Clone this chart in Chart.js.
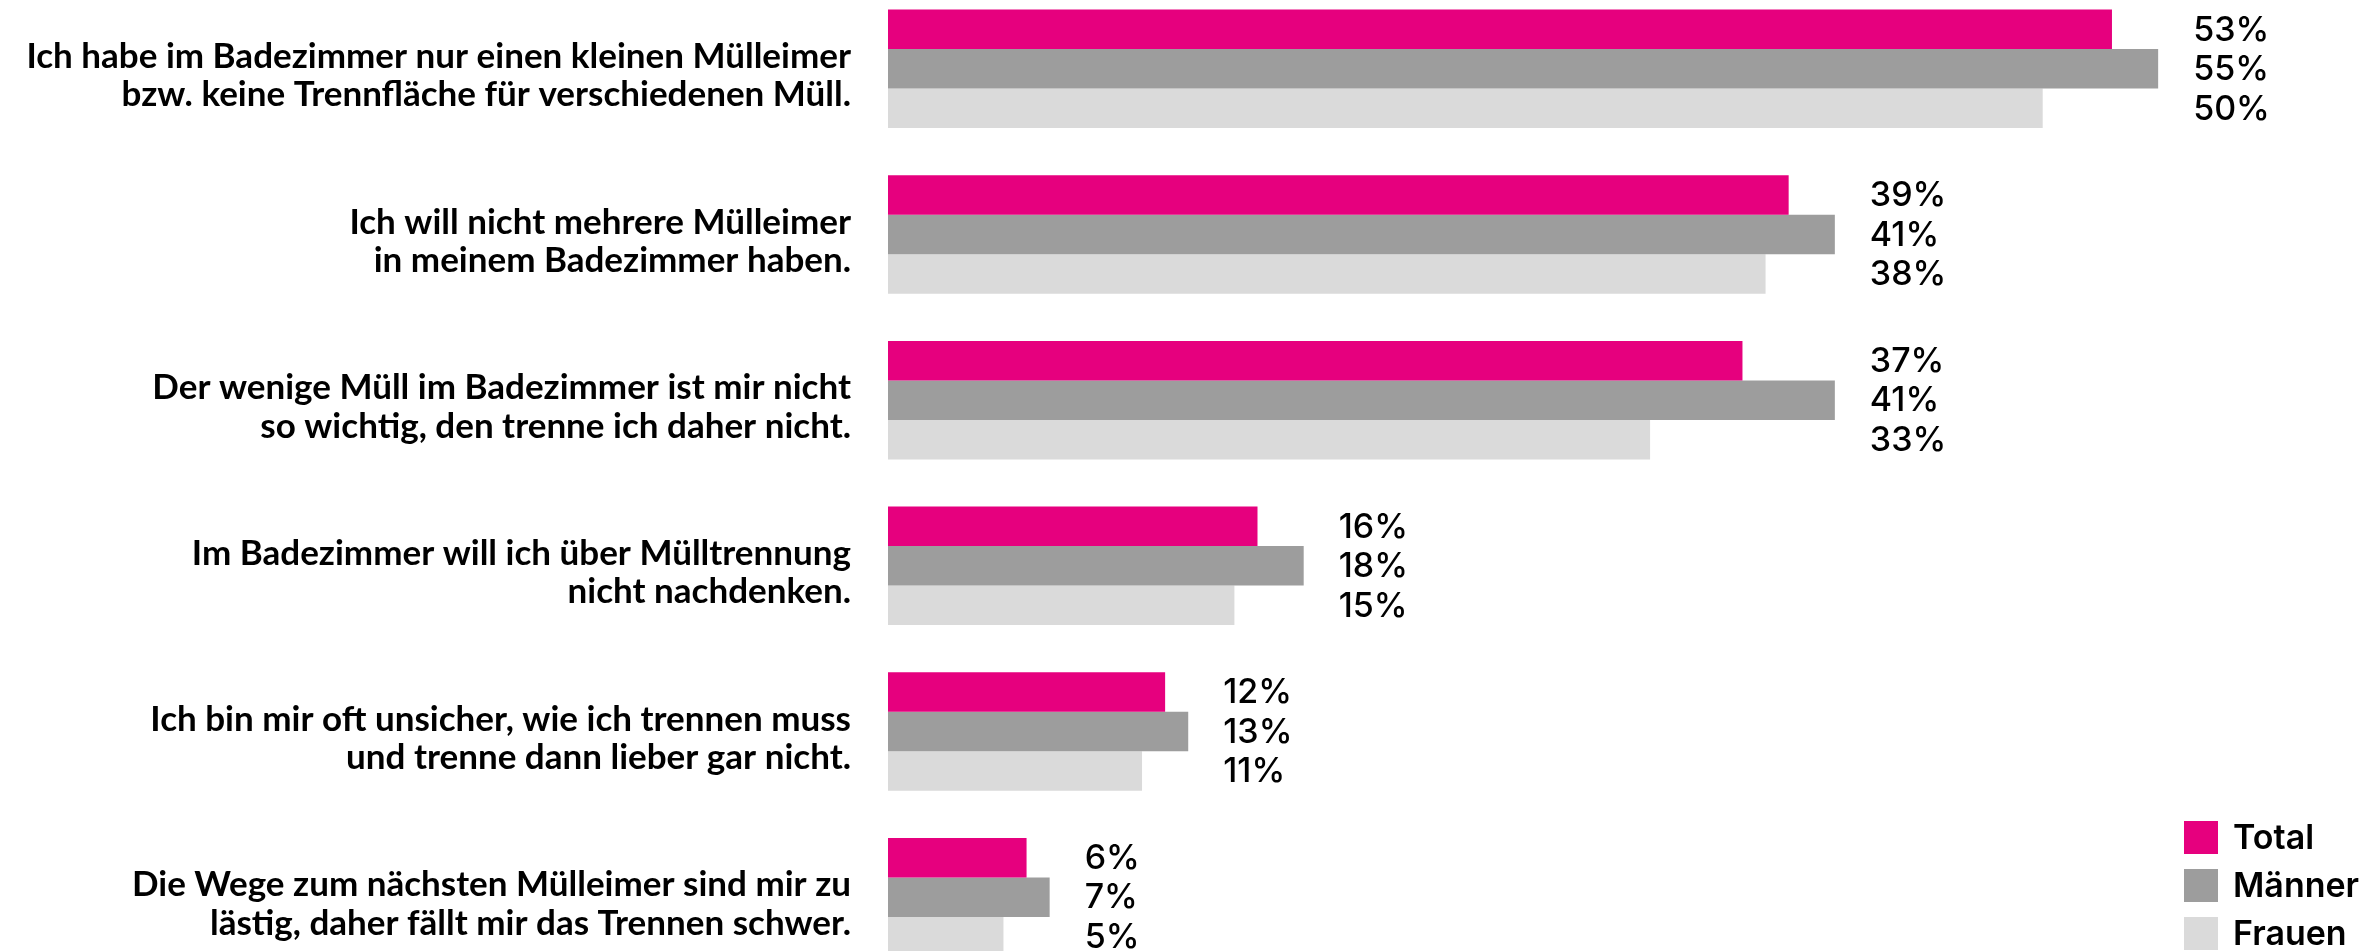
<!DOCTYPE html>
<html>
<head>
<meta charset="utf-8">
<script src="https://cdn.jsdelivr.net/npm/chart.js@4/dist/chart.umd.min.js"></script>
<style>
  html, body { margin: 0; padding: 0; background: #fff; overflow: hidden; }
  body { width: 2374px; height: 951px; position: relative; }
  #wrap { position: absolute; left: 0; top: -14px; width: 2374px; height: 994px; }
</style>
</head>
<body>
<div id="wrap"><canvas id="chart"></canvas></div>
<script>
// Categories (two-line labels)
const categories = [
    ['Ich habe im Badezimmer nur einen kleinen Mülleimer', 'bzw. keine Trennfläche für verschiedenen Müll.'],
    ['Ich will nicht mehrere Mülleimer', 'in meinem Badezimmer haben.'],
    ['Der wenige Müll im Badezimmer ist mir nicht', 'so wichtig, den trenne ich daher nicht.'],
    ['Im Badezimmer will ich über Mülltrennung', 'nicht nachdenken.'],
    ['Ich bin mir oft unsicher, wie ich trennen muss', 'und trenne dann lieber gar nicht.'],
    ['Die Wege zum nächsten Mülleimer sind mir zu', 'lästig, daher fällt mir das Trennen schwer.']
];

const seriesNames = ['Total', 'Männer', 'Frauen'];
const totalValues = [53, 39, 37, 16, 12, 6];
const maennerValues = [55, 41, 41, 18, 13, 7];
const frauenValues = [50, 38, 33, 15, 11, 5];
const seriesColors = ['#e6007e', '#9d9d9d', '#dadada'];

const labelFont = '"Lato", "Open Sans", sans-serif';
const numFont = '"Inter", "Open Sans", sans-serif';

// value labels: one column per group, right of the longest bar
const valueLabels = {
    id: 'valueLabels',
    afterDatasetsDraw(chart) {
        const ctx = chart.ctx;
        const xScale = chart.scales.x;
        ctx.save();
        ctx.fillStyle = '#000';
        ctx.font = '500 34px ' + numFont;
        ctx.textAlign = 'left';
        ctx.textBaseline = 'middle';
        categories.forEach((c, i) => {
            const vals = chart.data.datasets.map(d => d.data[i]);
            const x = xScale.getPixelForValue(Math.max(...vals)) + 35;
            chart.data.datasets.forEach((d, di) => {
                const bar = chart.getDatasetMeta(di).data[i];
                ctx.fillText(d.data[i] + '%', x, bar.y + 1);
            });
        });
        ctx.restore();
    }
};

// legend bottom right
const squareLegend = {
    id: 'squareLegend',
    afterDraw(chart) {
        const ctx = chart.ctx;
        ctx.save();
        ctx.font = '600 34px ' + numFont;
        ctx.textAlign = 'left';
        ctx.textBaseline = 'middle';
        seriesNames.forEach((name, i) => {
            const y = 835 + i * 48;
            ctx.fillStyle = seriesColors[i];
            ctx.fillRect(2184, y, 34, 33);
            ctx.fillStyle = '#000';
            ctx.fillText(name, 2233, y + 18);
        });
        ctx.restore();
    }
};

const ctx = document.getElementById('chart').getContext('2d');
new Chart(ctx, {
    type: 'bar',
    data: {
        labels: categories,
        datasets: [
            { label: seriesNames[0], data: totalValues, backgroundColor: seriesColors[0] },
            { label: seriesNames[1], data: maennerValues, backgroundColor: seriesColors[1] },
            { label: seriesNames[2], data: frauenValues, backgroundColor: seriesColors[2] }
        ]
    },
    options: {
        indexAxis: 'y',
        responsive: true,
        maintainAspectRatio: false,
        animation: false,
        layout: { padding: { top: 0, bottom: 0, left: 0, right: 8 } },
        datasets: {
            bar: { categoryPercentage: 0.715, barPercentage: 1.0, borderWidth: 0 }
        },
        plugins: {
            legend: { display: false },
            tooltip: { enabled: false }
        },
        scales: {
            x: {
                min: 0,
                max: 64,
                display: false
            },
            y: {
                grid: { display: false, drawTicks: false },
                border: { display: false },
                ticks: {
                    color: '#000',
                    padding: 37,
                    labelOffset: 7,
                    font: { family: labelFont, size: 35, weight: 'bold', lineHeight: 1.1 }
                },
                afterFit(scale) {
                    scale.width = 888;
                    scale.paddingTop = 0;
                    scale.paddingBottom = 0;
                }
            }
        }
    },
    plugins: [valueLabels, squareLegend]
});
</script>
</body>
</html>
